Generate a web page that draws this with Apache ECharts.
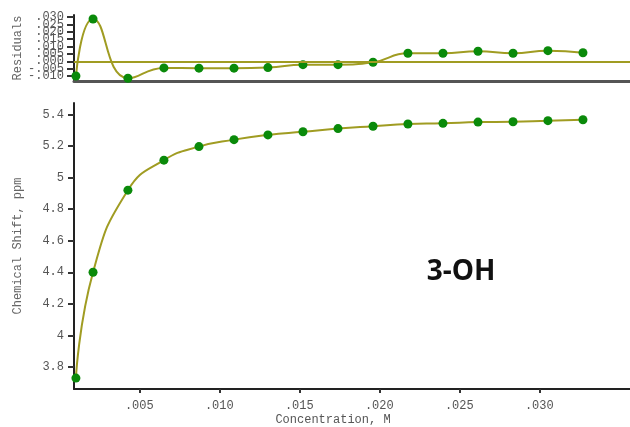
<!DOCTYPE html>
<html>
<head>
<meta charset="utf-8">
<script src="https://cdn.jsdelivr.net/npm/echarts@6/dist/echarts.min.js"></script>
<style>html,body{margin:0;padding:0;background:#fff}#c{width:630px;height:427px}</style>
</head>
<body>
<div id="c"></div>
<script>
var concentration = [0.00104, 0.00211, 0.00429, 0.00654, 0.00873, 0.01092, 0.01304, 0.01523, 0.01742, 0.01961, 0.02179, 0.02398, 0.02617, 0.02836, 0.03054, 0.03273];
var shift = [3.73, 4.40, 4.92, 5.11, 5.196, 5.24, 5.27, 5.29, 5.31, 5.325, 5.339, 5.343, 5.351, 5.353, 5.36, 5.366];
var residuals = [-0.0100, 0.0287, -0.0115, -0.0045, -0.0047, -0.0047, -0.0043, -0.0023, -0.0023, -0.0007, 0.0054, 0.0054, 0.0068, 0.0054, 0.0072, 0.0058];
var xTicks = [0.005, 0.010, 0.015, 0.020, 0.025, 0.030];
var shiftTicks = [3.8, 4.0, 4.2, 4.4, 4.6, 4.8, 5.0, 5.2, 5.4];
var residTicks = [-0.010, -0.005, 0.000, 0.005, 0.010, 0.015, 0.020, 0.025, 0.030];

var olive = '#a09c22';
var green = '#0a8a0a';
var mono = '"Liberation Mono", "DejaVu Sans Mono", monospace';

function fmt3(v) {
  var s = Math.abs(v).toFixed(3).replace(/^0/, '');
  return (v < -1e-9 ? '-' : '') + s;
}
function fmtShift(v) { return String(parseFloat(v.toFixed(1))); }
function pairs(xs, ys) { return xs.map(function (x, i) { return [x, ys[i]]; }); }

// residual labels overlap in the original; split them over two co-located axes
var residLabelsA = residTicks.filter(function (v, i) { return i % 2 === 0; });
var residLabelsB = residTicks.filter(function (v, i) { return i % 2 === 1; });

var residLabelStyle = {formatter: fmt3, fontFamily: mono, fontSize: 12, color: '#555', margin: 10,
  hideOverlap: false, showMinLabel: true, showMaxLabel: true};

var chart = echarts.init(document.getElementById('c'));
chart.setOption({
  animation: false,
  backgroundColor: '#fff',
  grid: [
    {left: 74, right: 0, top: 15, height: 66, containLabel: false, outerBoundsMode: 'none'},
    {left: 74, right: 0, top: 103, height: 286, containLabel: false, outerBoundsMode: 'none'}
  ],
  xAxis: [
    {
      gridIndex: 0, type: 'value', min: 0.00092, max: 0.03567,
      splitLine: {show: false},
      axisLine: {onZero: false, lineStyle: {color: '#555', width: 3}},
      axisTick: {show: false}, axisLabel: {show: false}
    },
    {
      gridIndex: 1, type: 'value', min: 0.00092, max: 0.03567,
      splitLine: {show: false},
      axisLine: {onZero: false, lineStyle: {color: '#222', width: 2}},
      axisTick: {customValues: xTicks, length: 4, lineStyle: {color: '#333', width: 2}},
      axisLabel: {customValues: xTicks, formatter: fmt3, fontFamily: mono, fontSize: 12, color: '#555', margin: 11}
    }
  ],
  yAxis: [
    {
      gridIndex: 0, type: 'value', min: -0.0134, max: 0.0314, position: 'left',
      name: 'Residuals', nameLocation: 'middle', nameGap: 50, nameMoveOverlap: false,
      nameTextStyle: {fontFamily: mono, fontSize: 12, color: '#666'},
      splitLine: {show: false},
      axisLine: {onZero: false, lineStyle: {color: '#222', width: 2}},
      axisTick: {customValues: residTicks, length: 7, lineStyle: {color: '#333', width: 2}},
      axisLabel: Object.assign({customValues: residLabelsA}, residLabelStyle)
    },
    {
      gridIndex: 1, type: 'value', min: 3.661, max: 5.472, position: 'left',
      name: 'Chemical Shift, ppm', nameLocation: 'middle', nameGap: 50, nameMoveOverlap: false,
      nameTextStyle: {fontFamily: mono, fontSize: 12, color: '#666'},
      splitLine: {show: false},
      axisLine: {onZero: false, lineStyle: {color: '#222', width: 2}},
      axisTick: {customValues: shiftTicks, length: 6, lineStyle: {color: '#333', width: 2}},
      axisLabel: {customValues: shiftTicks, formatter: fmtShift, fontFamily: mono, fontSize: 12, color: '#555', margin: 10,
        showMinLabel: true, showMaxLabel: true}
    },
    {
      gridIndex: 0, type: 'value', min: -0.0134, max: 0.0314, position: 'left', offset: 0,
      splitLine: {show: false},
      axisLine: {show: false, onZero: false},
      axisTick: {show: false},
      axisLabel: Object.assign({customValues: residLabelsB}, residLabelStyle)
    }
  ],
  graphic: [
    {type: 'text', x: 333, y: 420, style: {text: 'Concentration, M', font: '12px ' + mono, fill: '#555', align: 'center', verticalAlign: 'middle'}},
    {type: 'text', x: 461, y: 272, style: {text: '3-OH', font: 'bold 28px "Open Sans", "Noto Sans", sans-serif', fill: '#111', align: 'center', verticalAlign: 'middle'}}
  ],
  series: [
    {
      type: 'line', xAxisIndex: 0, yAxisIndex: 0,
      data: pairs(concentration, residuals),
      smooth: true, symbol: 'circle', symbolSize: 9,
      lineStyle: {color: olive, width: 2},
      itemStyle: {color: green},
      markLine: {
        silent: true, symbol: 'none', label: {show: false},
        lineStyle: {color: olive, width: 2, type: 'solid'},
        data: [{yAxis: 0}]
      },
      z: 3
    },
    {
      type: 'line', xAxisIndex: 1, yAxisIndex: 1,
      data: pairs(concentration, shift),
      smooth: true, symbol: 'circle', symbolSize: 9,
      lineStyle: {color: olive, width: 2},
      itemStyle: {color: green}
    }
  ]
});
</script>
</body>
</html>
